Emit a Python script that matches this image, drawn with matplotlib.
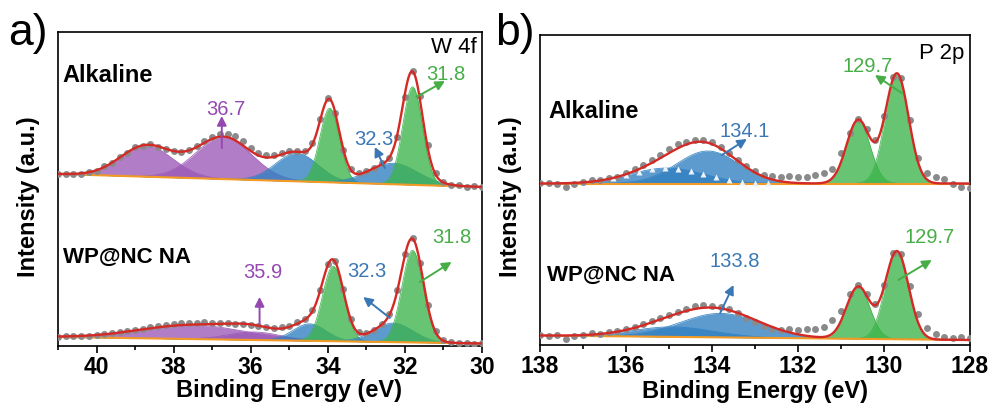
import numpy as np
import matplotlib
matplotlib.use("Agg")
import matplotlib.pyplot as plt
from matplotlib.ticker import MultipleLocator

plt.rcParams['font.family'] = ['Liberation Sans', 'DejaVu Sans']

# measured points, 0.2 eV step (high -> low binding energy)
w_energy = np.round(np.arange(41.0, 29.9, -0.2), 1)
p_energy = np.round(np.arange(138.0, 127.9, -0.2), 1)

w_alk = [22.4, 21.6, 22.5, 22.2, 24.3, 25.4, 29.6, 33.0, 38.9, 43.1,
         48.6, 50.2, 51.7, 49.0, 47.1, 44.6, 43.6, 46.2, 50.3, 55.0,
         59.4, 62.0, 62.3, 59.6, 54.8, 47.9, 43.0, 40.6, 41.1, 42.8,
         44.9, 45.5, 45.4, 52.8, 76.9, 98.3, 83.4, 46.1, 26.9, 22.6,
         24.9, 28.3, 32.6, 38.4, 58.8, 98.6, 125.1, 99.7, 51.4, 23.0,
         14.2, 11.0, 10.7, 9.2, 9.6, 8.7]
w_na = [9.2, 9.9, 9.5, 10.4, 10.3, 11.4, 11.9, 12.8, 13.9, 14.8,
        16.0, 17.1, 18.5, 19.6, 20.8, 21.7, 22.6, 23.3, 23.4, 23.6,
        23.1, 22.9, 22.6, 22.0, 21.8, 21.0, 20.1, 19.2, 18.3, 18.6,
        20.4, 23.5, 27.4, 35.6, 56.4, 81.9, 84.9, 57.0, 26.8, 13.6,
        12.9, 16.3, 21.9, 31.9, 55.8, 91.6, 108.4, 82.9, 40.6, 15.0,
        6.1, 4.0, 3.1, 3.3, 2.4, 2.6]
p_alk = [11.8, 12.3, 10.9, 7.8, 10.6, 12.9, 14.6, 15.2, 16.8, 18.0,
         21.9, 25.6, 30.0, 35.1, 40.3, 46.0, 51.2, 53.5, 55.0, 55.2,
         53.0, 48.0, 42.1, 35.0, 28.9, 23.8, 20.3, 19.4, 18.1, 18.9,
         17.6, 18.4, 19.7, 22.0, 26.5, 42.0, 62.4, 76.0, 66.2, 54.8,
         78.9, 117.9, 116.8, 74.6, 37.4, 22.5, 18.3, 16.2, 11.4, 8.5,
         7.4]
p_na = [9.8, 9.2, 10.1, 6.0, 9.4, 10.4, 11.6, 11.3, 12.6, 14.3,
        16.3, 17.8, 21.2, 23.6, 27.3, 29.9, 33.4, 36.4, 38.6, 39.6,
        39.5, 37.9, 36.0, 32.4, 27.5, 22.8, 18.6, 16.0, 15.1, 15.8,
        15.4, 16.3, 15.7, 18.2, 24.6, 34.5, 50.9, 59.6, 51.2, 41.5,
        60.1, 91.7, 90.8, 59.0, 31.2, 16.8, 11.2, 8.4, 7.5, 8.1,
        7.2]

# linear background (value at high BE end, value at low BE end)
w_alk_bg = (22.0, 9.0)
w_na_bg = (9.0, 2.5)
p_alk_bg = (11.5, 11.5)
p_na_bg = (9.5, 5.0)

# fitted components: (center eV, height, FWHM eV)
w_alk_fit = [(38.7, 31, 1.6), (36.7, 42, 1.7), (34.8, 28, 1.3),
             (33.95, 74, 0.6), (32.3, 21, 1.5), (31.8, 98, 0.6)]
w_alk_col = ['purple', 'purple', 'blue', 'green', 'blue', 'green']
w_na_fit = [(37.5, 14, 3.2), (35.9, 8, 1.6), (34.47, 17, 1.0),
            (33.86, 75, 0.65), (32.3, 19, 1.2), (31.8, 92, 0.65)]
w_na_col = ['purple', 'purple', 'blue', 'green', 'blue', 'green']
p_alk_fit = [(135.05, 15.5, 2.0), (134.1, 32.5, 1.7),
             (130.6, 63.5, 0.64), (129.7, 110, 0.64)]
p_alk_col = ['blue', 'blue', 'green', 'green']
p_na_fit = [(134.9, 10, 2.2), (133.8, 24, 2.2),
            (130.6, 52, 0.64), (129.7, 88, 0.64)]
p_na_col = ['blue', 'blue', 'green', 'green']

fill = {'purple': '#9b59b6', 'blue': '#2f7fc1', 'green': '#3cb44b'}
ink = {'purple': '#9448b0', 'blue': '#3a78b5', 'green': '#47ad47'}

offset = 150


def gauss(x, c, h, w):
    return h * np.exp(-4 * np.log(2) * (x - c) ** 2 / w ** 2)


def background(x, hi, lo, bg):
    return np.interp(x, [lo, hi], [bg[1], bg[0]])


def spectrum(ax, energy, counts, bg_ends, fit, cols, lim, shift):
    x = np.linspace(lim[1], lim[0], 800)
    bg = background(x, lim[0], lim[1], bg_ends) + shift
    total = bg.copy()
    for (c, h, w), col in zip(fit, cols):
        y = gauss(x, c, h, w)
        ax.fill_between(x, bg, bg + y, color=fill[col], alpha=0.78, lw=0, zorder=1)
        ax.plot(x, bg + y, color=fill[col], lw=0.6, alpha=0.9, zorder=1)
        total += y
    ax.plot(x, bg, color='#f39a26', lw=1.5, zorder=2)
    ax.plot(energy, np.array(counts) + shift, 'o', ms=5, color='#8a8a8a',
            mec='none', zorder=3)
    ax.plot(x, total, color='#d42a26', lw=1.7, zorder=4)
    return x


def note(ax, text, col, txy, tail, head):
    ax.text(txy[0], txy[1], text, color=ink[col], fontsize=14.5,
            ha='center', va='baseline', zorder=6)
    ax.annotate('', xy=head, xytext=tail,
                arrowprops=dict(arrowstyle='-|>,head_length=0.55,head_width=0.28',
                                color=ink[col], lw=1.4, shrinkA=0, shrinkB=0),
                zorder=6)


def frame(ax, lim, ytop):
    ax.set_xlim(lim)
    ax.set_ylim(0, ytop)
    ax.set_yticks([])
    ax.xaxis.set_major_locator(MultipleLocator(2))
    ax.xaxis.set_minor_locator(MultipleLocator(1))
    ax.tick_params(axis='x', which='major', direction='out', length=5,
                   width=1.2, labelsize=16.5, pad=2)
    ax.tick_params(axis='x', which='minor', direction='out', length=3, width=1.2)
    plt.setp(ax.get_xticklabels(), fontweight='bold')
    for s in ax.spines.values():
        s.set_linewidth(1.2)
    ax.set_xlabel('Binding Energy (eV)', fontsize=17, fontweight='bold')
    ax.set_ylabel('Intensity (a.u.)', fontsize=17, fontweight='bold')


fig = plt.figure(figsize=(9.96, 4.12), dpi=100)
ax1 = fig.add_axes([0.0582, 0.1602, 0.4257, 0.7621])
ax2 = fig.add_axes([0.5422, 0.1626, 0.4317, 0.7524])

# W 4f
spectrum(ax1, w_energy, w_alk, w_alk_bg, w_alk_fit, w_alk_col, (41, 30), offset)
spectrum(ax1, w_energy, w_na, w_na_bg, w_na_fit, w_na_col, (41, 30), 0)
frame(ax1, (41, 30), 314)
ax1.xaxis.set_label_coords(0.545, -0.105)
ax1.yaxis.set_label_coords(-0.042, 0.475)

ax1.text(0.988, 0.984, 'W 4f', transform=ax1.transAxes, ha='right', va='top', fontsize=16)
ax1.text(0.01, 0.898, 'Alkaline', transform=ax1.transAxes, ha='left', va='top',
         fontsize=17, fontweight='bold')
ax1.text(0.012, 0.316, 'WP@NC NA', transform=ax1.transAxes, ha='left', va='top',
         fontsize=16, fontweight='bold')

note(ax1, '36.7', 'purple', (36.65, 231), (36.75, 198), (36.75, 230))
note(ax1, '31.8', 'green', (30.93, 266), (31.70, 249), (30.96, 265))
note(ax1, '32.3', 'blue', (32.80, 201), (32.52, 178), (32.78, 199))
note(ax1, '35.9', 'purple', (35.68, 68), (35.77, 22), (35.77, 49))
note(ax1, '32.3', 'blue', (33.0, 69), (32.39, 28), (33.08, 49))
note(ax1, '31.8', 'green', (30.77, 103), (31.61, 64), (30.79, 84))

# P 2p
spectrum(ax2, p_energy, p_alk, p_alk_bg, p_alk_fit, p_alk_col, (138, 128), offset)
spectrum(ax2, p_energy, p_na, p_na_bg, p_na_fit, p_na_col, (138, 128), 0)
# open triangles tracing the 135 eV doublet component
c, h, w = p_alk_fit[0]
xt = np.arange(136.3, 132.5, -0.3)
yt = background(xt, 138, 128, p_alk_bg) + gauss(xt, c, h, w) + offset
ax2.plot(xt, yt, '^', ms=5, color='#eef3fb', mec='none', zorder=3.5)
frame(ax2, (138, 128), 310)
ax2.xaxis.set_label_coords(0.5, -0.113)
ax2.yaxis.set_label_coords(-0.042, 0.477)

ax2.text(0.988, 0.974, 'P 2p', transform=ax2.transAxes, ha='right', va='top', fontsize=16)
ax2.text(0.019, 0.79, 'Alkaline', transform=ax2.transAxes, ha='left', va='top',
         fontsize=17, fontweight='bold')
ax2.text(0.016, 0.258, 'WP@NC NA', transform=ax2.transAxes, ha='left', va='top',
         fontsize=16, fontweight='bold')

note(ax2, '134.1', 'blue', (133.23, 208), (133.77, 190), (133.19, 206))
note(ax2, '129.7', 'green', (130.37, 273), (129.59, 252), (130.21, 270))
note(ax2, '133.8', 'blue', (133.47, 78), (133.81, 32), (133.50, 60))
note(ax2, '129.7', 'green', (128.93, 102), (129.67, 65), (128.89, 85))

fig.text(0.008, 0.968, 'a)', fontsize=32, ha='left', va='top')
fig.text(0.497, 0.968, 'b)', fontsize=32, ha='left', va='top')

fig.savefig('out.png', dpi=100)
